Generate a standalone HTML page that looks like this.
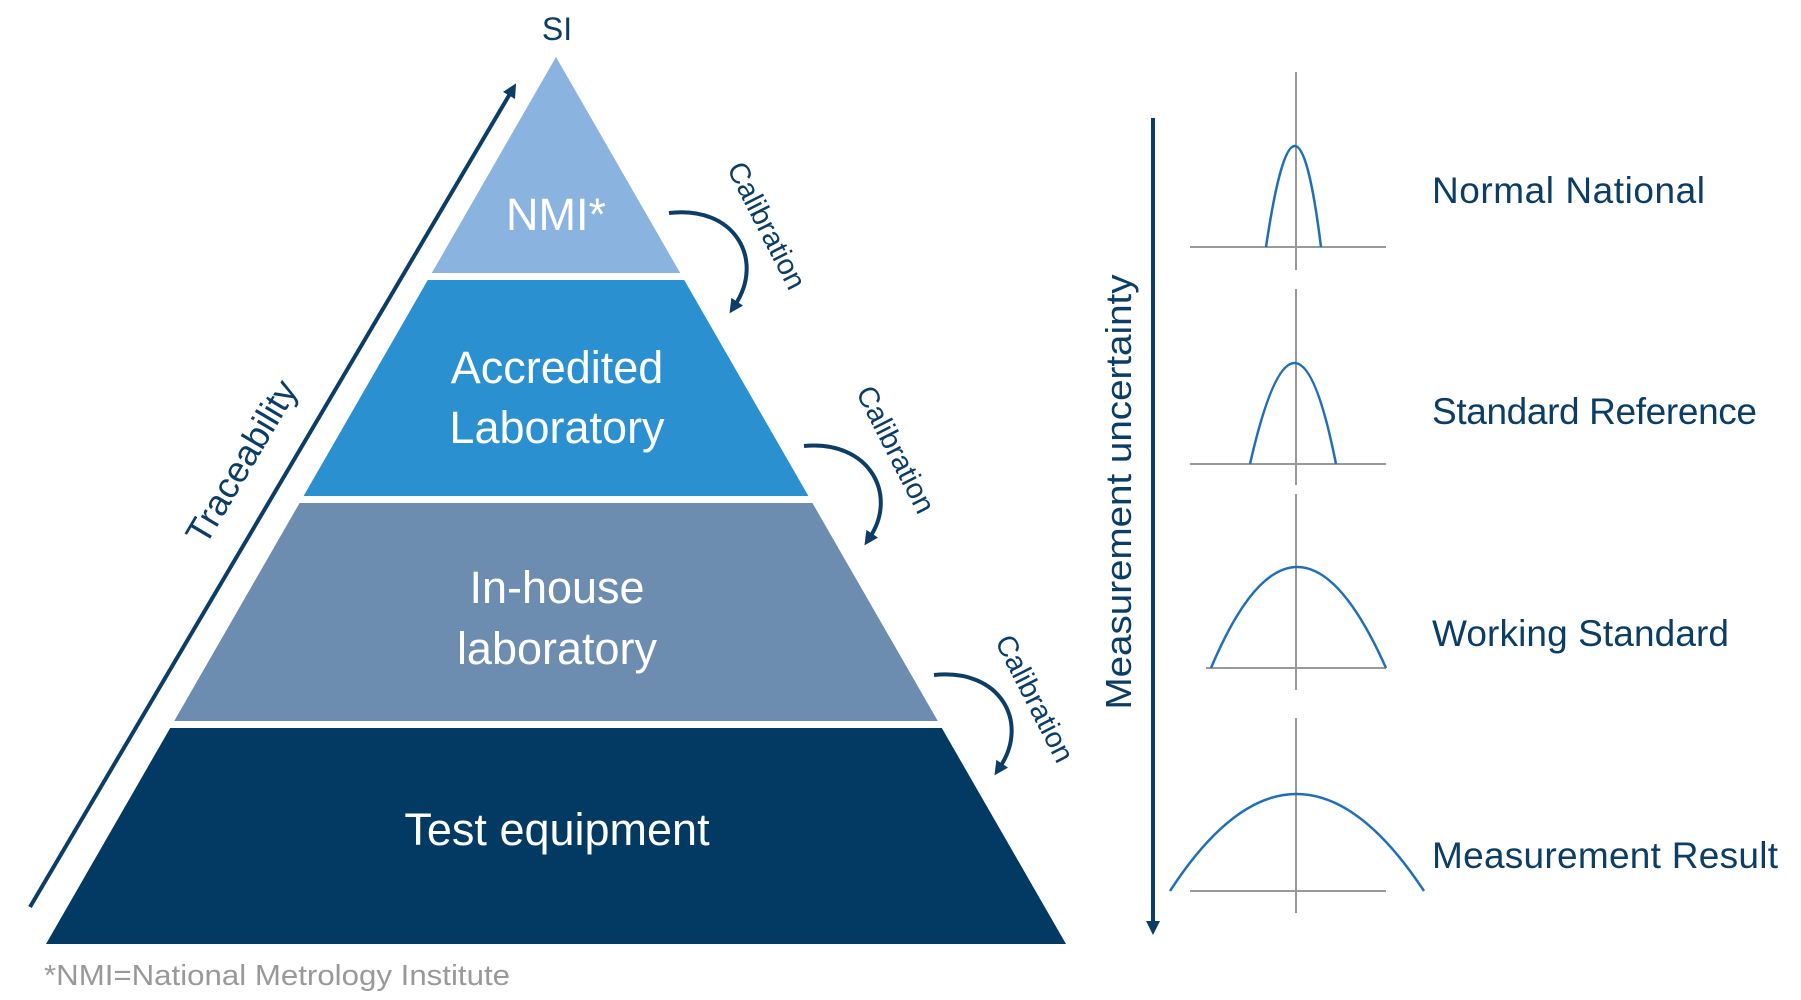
<!DOCTYPE html>
<html><head><meta charset="utf-8"><style>
html,body{margin:0;padding:0;background:#fff;}
svg{display:block;font-family:"Liberation Sans",sans-serif;}
</style></head><body>
<svg width="1801" height="1000" viewBox="0 0 1801 1000" xmlns="http://www.w3.org/2000/svg">
<defs>
<clipPath id="tri"><polygon points="556,57 46,944 1066,944"/></clipPath>
<marker id="ah2" markerWidth="14" markerHeight="14" refX="4" refY="7" orient="auto" markerUnits="userSpaceOnUse" viewBox="0 0 14 14"><path d="M0,0 L14,7 L0,14 Z" fill="#0B3D66"/></marker>
</defs>
<g clip-path="url(#tri)">
<rect x="0" y="50" width="1100" height="223" fill="#8BB3E0"/>
<rect x="0" y="280" width="1100" height="216" fill="#2B90D0"/>
<rect x="0" y="503" width="1100" height="218" fill="#6C8DB0"/>
<rect x="0" y="728" width="1100" height="216" fill="#023A63"/>
</g>
<g fill="#fff" text-anchor="middle" font-size="45">
<text x="556" y="230">NMI*</text>
<text x="557" y="383">Accredited</text>
<text x="557" y="443">Laboratory</text>
<text x="557" y="603">In-house</text>
<text x="557" y="664">laboratory</text>
<text x="557" y="845">Test equipment</text>
</g>
<text x="557" y="40" font-size="32" fill="#0B3D66" text-anchor="middle">SI</text>
<line x1="30" y1="907" x2="511" y2="92" stroke="#0B3D66" stroke-width="4" marker-end="url(#ah2)"/>
<text transform="translate(252,468) rotate(-59.4)" font-size="36" fill="#0B3D66" text-anchor="middle">Traceability</text>
<g fill="none" stroke="#0B3D66" stroke-width="4">
<path d="M669,213 C735,205 765,260 735,305" marker-end="url(#ah2)"/>
<path d="M804,446 C870,440 898,495 870,537" marker-end="url(#ah2)"/>
<path d="M934,675 C1000,668 1030,722 1000,767" marker-end="url(#ah2)"/>
</g>
<g font-size="29" fill="#0B3D66" text-anchor="middle">
<text transform="translate(758,230) rotate(63)">Calibration</text>
<text transform="translate(887,454) rotate(63)">Calibration</text>
<text transform="translate(1026,703) rotate(63)">Calibration</text>
</g>
<line x1="1153" y1="118" x2="1153" y2="925" stroke="#0B3D66" stroke-width="4" marker-end="url(#ah2)"/>
<text transform="translate(1131,492) rotate(-90)" font-size="36" fill="#0B3D66" text-anchor="middle" textLength="435" lengthAdjust="spacingAndGlyphs">Measurement uncertainty</text>
<g stroke="#999" stroke-width="2">
<line x1="1296" y1="72" x2="1296" y2="270"/><line x1="1190" y1="247" x2="1386" y2="247"/>
<line x1="1296" y1="289" x2="1296" y2="485"/><line x1="1190" y1="464" x2="1386" y2="464"/>
<line x1="1296" y1="494" x2="1296" y2="690"/><line x1="1206" y1="668" x2="1386" y2="668"/>
<line x1="1296" y1="718" x2="1296" y2="913"/><line x1="1190" y1="891" x2="1386" y2="891"/>
</g>
<g fill="none" stroke="#1F6FB8" stroke-width="2.5">
<path d="M1266,247 Q1296,45 1321,247"/>
<path d="M1250,464 Q1296,262 1336,464"/>
<path d="M1211,668 Q1296,466 1386,668"/>
<path d="M1170,891 Q1296,697 1424,891"/>
</g>
<g font-size="37" fill="#0B3D66" lengthAdjust="spacingAndGlyphs">
<text x="1432" y="203" textLength="273">Normal National</text>
<text x="1432" y="424" textLength="325">Standard Reference</text>
<text x="1432" y="646" textLength="297">Working Standard</text>
<text x="1432" y="868" textLength="346">Measurement Result</text>
</g>
<text x="44" y="985" font-size="29" fill="#999" textLength="466" lengthAdjust="spacingAndGlyphs">*NMI=National Metrology Institute</text>
</svg>
</body></html>
